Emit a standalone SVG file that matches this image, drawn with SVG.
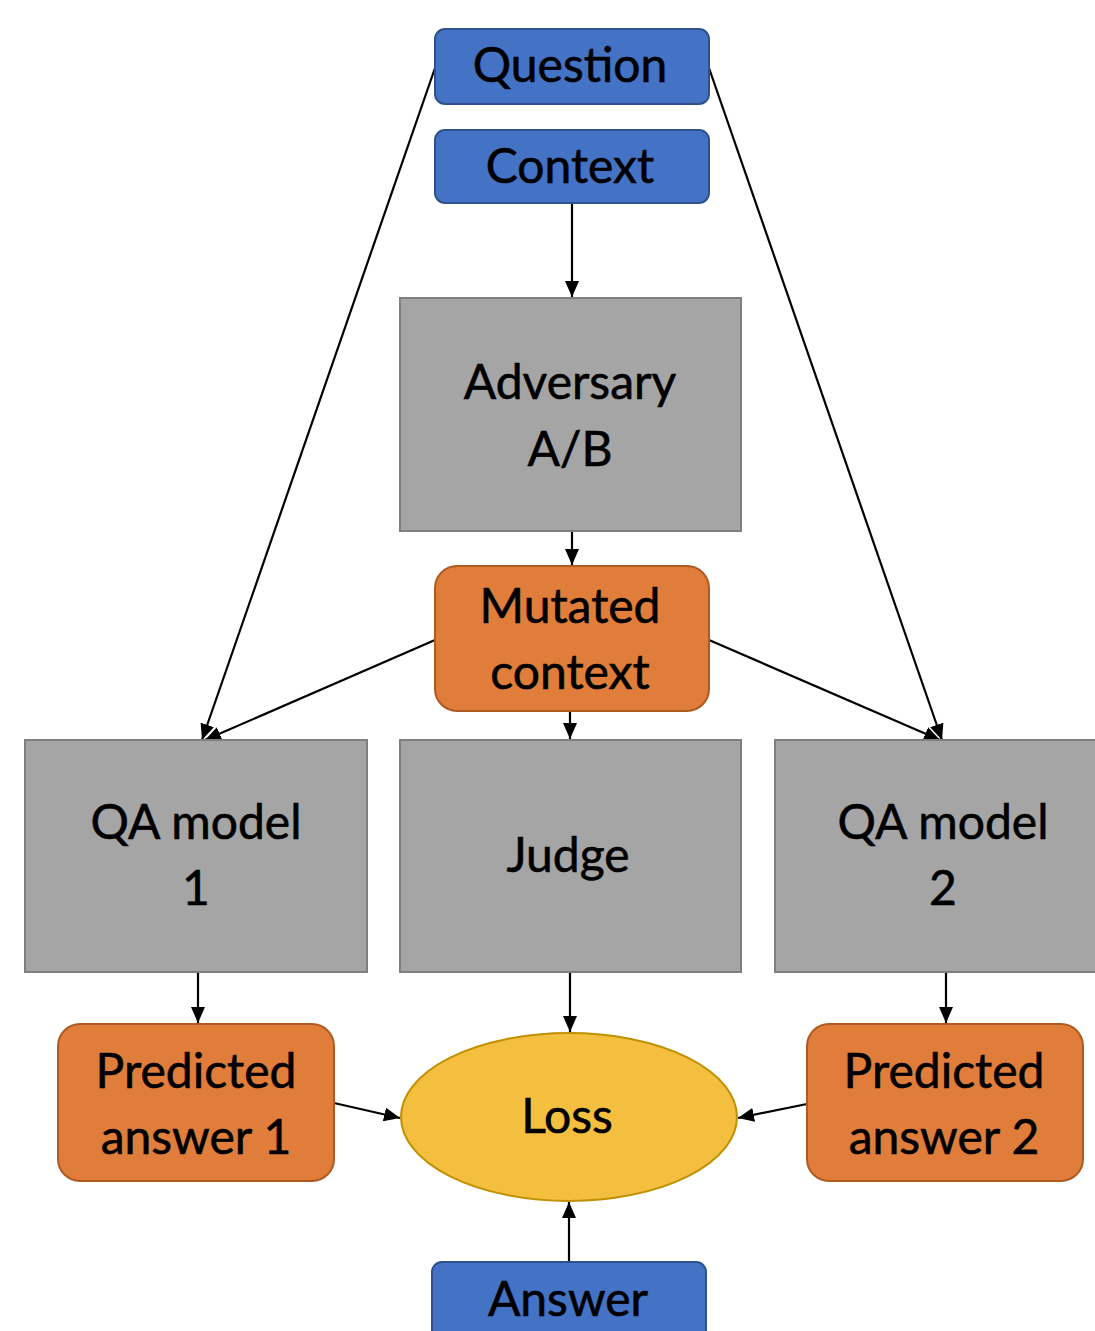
<svg xmlns="http://www.w3.org/2000/svg" width="1095" height="1331" viewBox="0 0 1095 1331">
<style>
text{font-family:Lato,"Open Sans","Liberation Sans",sans-serif;font-size:48px;fill:#000;stroke:#000;stroke-width:0.6;text-anchor:middle}
.blue{fill:#4472C4;stroke:#2F528F;stroke-width:2}
.gray{fill:#A5A5A5;stroke:#7F7F7F;stroke-width:2}
.orange{fill:#E07D3A;stroke:#AE5A21;stroke-width:2}
.loss{fill:#F4BF3F;stroke:#BF9000;stroke-width:2}
.c{stroke:#000;stroke-width:2.2;fill:none;marker-end:url(#ah)}
</style>
<defs>
<marker id="ah" viewBox="0 0 16 14" refX="16" refY="7" markerWidth="16" markerHeight="14" orient="auto" markerUnits="userSpaceOnUse">
<path d="M0,0 L16,7 L0,14 z" fill="#000"/>
</marker>
</defs>
<rect width="1095" height="1331" fill="#fff"/>
<g id="connectors">
<line class="c" x1="435" y1="68" x2="202" y2="740"/>
<line class="c" x1="709" y1="68" x2="942" y2="740"/>
<line class="c" x1="572" y1="204" x2="572" y2="297"/>
<line class="c" x1="572" y1="531" x2="572" y2="565"/>
<line class="c" x1="435" y1="640" x2="205" y2="740"/>
<line class="c" x1="709" y1="640" x2="940" y2="740"/>
<line class="c" x1="570" y1="711" x2="570" y2="739"/>
<line class="c" x1="198" y1="972" x2="198" y2="1023"/>
<line class="c" x1="570" y1="972" x2="570" y2="1032"/>
<line class="c" x1="946" y1="972" x2="946" y2="1023"/>
<line class="c" x1="334" y1="1103" x2="400" y2="1118"/>
<line class="c" x1="807" y1="1104" x2="738" y2="1118"/>
<line class="c" x1="569" y1="1262" x2="569" y2="1202"/>
</g>
<g id="question"><rect class="blue" x="435" y="29" width="274" height="75" rx="10"/><text x="570" y="82">Question</text></g>
<g id="context"><rect class="blue" x="435" y="130" width="274" height="73" rx="10"/><text x="570" y="183">Context</text></g>
<g id="adversary"><rect class="gray" x="400" y="298" width="341" height="233"/><text x="570" y="399">Adversary</text><text x="570" y="466">A/B</text></g>
<g id="mutated"><rect class="orange" x="435" y="566" width="274" height="145" rx="22"/><text x="570" y="623">Mutated</text><text x="570" y="689">context</text></g>
<g id="qa1"><rect class="gray" x="25" y="740" width="342" height="232"/><text x="196" y="839">QA model</text><text x="196" y="905">1</text></g>
<g id="judge"><rect class="gray" x="400" y="740" width="341" height="232"/><text x="568" y="872">Judge</text></g>
<g id="qa2"><rect class="gray" x="775" y="740" width="330" height="232"/><text x="943" y="839">QA model</text><text x="943" y="905">2</text></g>
<g id="pred1"><rect class="orange" x="58" y="1024" width="276" height="157" rx="22"/><text x="196" y="1088">Predicted</text><text x="196" y="1154">answer 1</text></g>
<g id="loss"><ellipse class="loss" cx="569" cy="1117" rx="168" ry="84"/><text x="567" y="1133">Loss</text></g>
<g id="pred2"><rect class="orange" x="807" y="1024" width="276" height="157" rx="22"/><text x="944" y="1088">Predicted</text><text x="944" y="1154">answer 2</text></g>
<g id="answer"><rect class="blue" x="432" y="1262" width="274" height="90" rx="10"/><text x="568" y="1316">Answer</text></g>
</svg>
